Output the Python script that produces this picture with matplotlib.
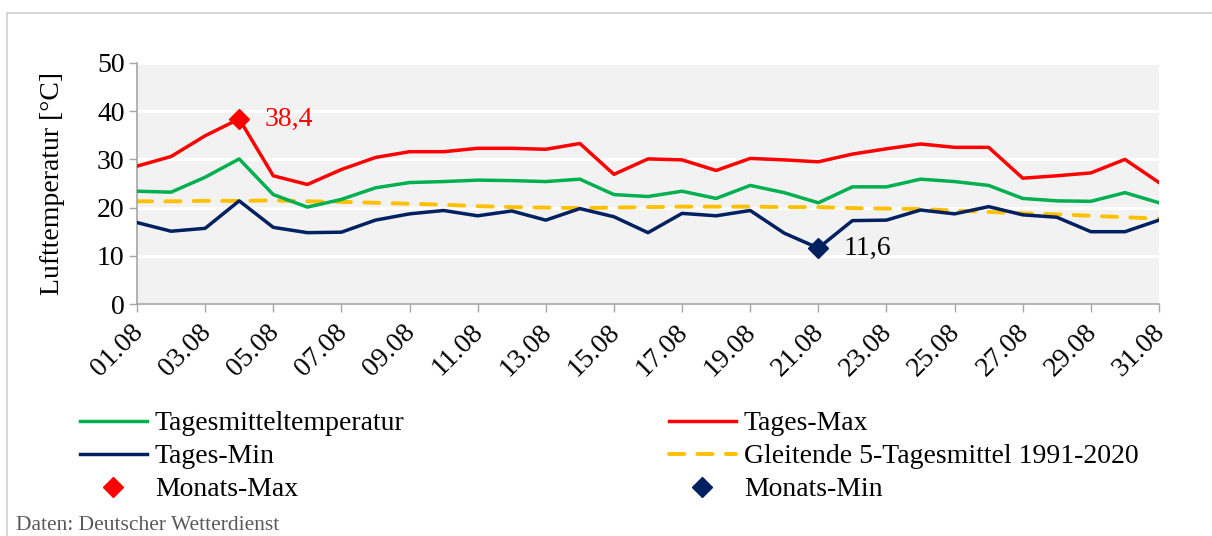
import matplotlib
matplotlib.use("Agg")
import matplotlib.pyplot as plt
from matplotlib.lines import Line2D
from matplotlib.transforms import ScaledTranslation
import numpy as np

days = list(range(1, 32))
tick_labels = [f"{d:02d}.08" for d in days]

tages_mittel = [23.4, 23.2, 26.3, 30.1, 22.7, 20.1, 21.7, 24.1, 25.2, 25.4, 25.7, 25.6, 25.4, 25.9, 22.7, 22.3,
                23.4, 21.9, 24.6, 23.1, 21.0, 24.3, 24.3, 25.9, 25.4, 24.6, 21.9, 21.4, 21.3, 23.1, 21.0]
tages_max = [28.6, 30.6, 34.9, 38.4, 26.6, 24.8, 27.9, 30.4, 31.6, 31.6, 32.3, 32.3, 32.1, 33.3, 26.9, 30.1,
             29.9, 27.7, 30.2, 29.9, 29.5, 31.1, 32.2, 33.2, 32.5, 32.5, 26.1, 26.6, 27.2, 30.0, 25.2]
tages_min = [16.9, 15.1, 15.7, 21.4, 15.9, 14.8, 14.9, 17.4, 18.7, 19.4, 18.3, 19.3, 17.4, 19.8, 18.1, 14.8,
             18.8, 18.3, 19.4, 14.7, 11.6, 17.3, 17.4, 19.5, 18.7, 20.2, 18.5, 18.0, 15.0, 15.0, 17.4]
gleitend = [21.3, 21.3, 21.4, 21.4, 21.5, 21.3, 21.2, 21.0, 20.8, 20.6, 20.3, 20.1, 20.0, 19.9, 20.0, 20.1,
            20.2, 20.2, 20.2, 20.1, 20.1, 19.9, 19.8, 19.7, 19.4, 19.1, 18.8, 18.6, 18.3, 18.0, 17.7]

monats_max_day, monats_max_val = 4, 38.4
monats_min_day, monats_min_val = 21, 11.6

serif = ["Liberation Serif", "DejaVu Serif"]
plt.rcParams['font.family'] = serif

W, H = 1212, 536
fig = plt.figure(figsize=(W / 100, H / 100), dpi=100)
ax = fig.add_axes([137 / W, 1 - 304 / H, (1159 - 137) / W, (304 - 63) / H])
ax.set_facecolor("#F2F2F2")

GREEN, RED, NAVY, YELLOW = "#00B050", "#FF0000", "#002060", "#FFC000"
lw = 2.5
lw_y = 2.8
dash = (3.9, 3.4)
ax.plot(days, tages_mittel, color=GREEN, lw=lw, zorder=3)
ax.plot(days, tages_max, color=RED, lw=lw, zorder=3)
ax.plot(days, tages_min, color=NAVY, lw=lw, zorder=3)
ax.plot(days, gleitend, color=YELLOW, lw=lw_y, dashes=dash, dash_capstyle='round', zorder=2.5)
ax.plot([monats_max_day], [monats_max_val], marker='D', color=RED, ms=10.5, ls='none', zorder=4)
ax.plot([monats_min_day], [monats_min_val], marker='D', color=NAVY, ms=10.5, ls='none', zorder=4)
ax.annotate("38,4", (monats_max_day, monats_max_val), xytext=(18, 0), textcoords='offset points',
            color=RED, fontsize=20, va='center', ha='left')
ax.annotate("11,6", (monats_min_day, monats_min_val), xytext=(18, 0), textcoords='offset points',
            color="black", fontsize=20, va='center', ha='left')

ax.set_xlim(1, 31)
ax.set_ylim(0, 50)
ax.set_yticks(range(0, 51, 10))
ax.yaxis.grid(True, color="white", lw=2)
ax.set_axisbelow(True)
ax.set_xticks(days[::2])
ax.set_xticklabels(tick_labels[::2], rotation=45, ha='right', va='center', rotation_mode='anchor')
ax.tick_params(axis='both', labelsize=20, color="#A6A6A6", length=6, width=1)
ax.tick_params(axis='x', pad=11.5)
ax.tick_params(axis='y', pad=3)
shift = ScaledTranslation(2 / 100, 0, fig.dpi_scale_trans)
for lab in ax.get_xticklabels():
    lab.set_transform(lab.get_transform() + shift)
for s in ['top', 'right']:
    ax.spines[s].set_visible(False)
for s in ['left', 'bottom']:
    ax.spines[s].set_color("#A6A6A6")
    ax.spines[s].set_linewidth(1.2)
ax.set_ylabel("Lufttemperatur [°C]", fontsize=20, labelpad=23)

h_mittel = Line2D([], [], color=GREEN, lw=lw)
h_max = Line2D([], [], color=RED, lw=lw)
h_min = Line2D([], [], color=NAVY, lw=lw)
h_gl = Line2D([], [], color=YELLOW, lw=lw_y, dashes=dash, dash_capstyle='round')
h_mmax = Line2D([], [], color=RED, marker='D', ls='none', ms=10)
h_mmin = Line2D([], [], color=NAVY, marker='D', ls='none', ms=10)

common = dict(frameon=False, fontsize=20, handlelength=2.4, handletextpad=0.3,
              labelspacing=0.27, borderpad=0, borderaxespad=0, loc='upper left')
leg1 = fig.legend([h_mittel, h_min, h_mmax], ["Tagesmitteltemperatur", "Tages-Min", "Monats-Max"],
                  bbox_to_anchor=(80 / W, 1 - 411 / H), **common)
leg2 = fig.legend([h_max, h_gl, h_mmin], ["Tages-Max", "Gleitende 5-Tagesmittel 1991-2020", "Monats-Min"],
                  bbox_to_anchor=(669 / W, 1 - 411 / H), **common)

fig.text(16 / W, 1 - 525 / H, "Daten: Deutscher Wetterdienst", color="#595959", fontsize=15.5,
         va='center', ha='left')

fig.add_artist(Line2D([7 / W, 1], [1 - 13 / H, 1 - 13 / H], color="#D0D0D0", lw=1.2))
fig.add_artist(Line2D([7 / W, 7 / W], [0, 1 - 13 / H], color="#D0D0D0", lw=1.2))

fig.savefig("out.png", dpi=100)
